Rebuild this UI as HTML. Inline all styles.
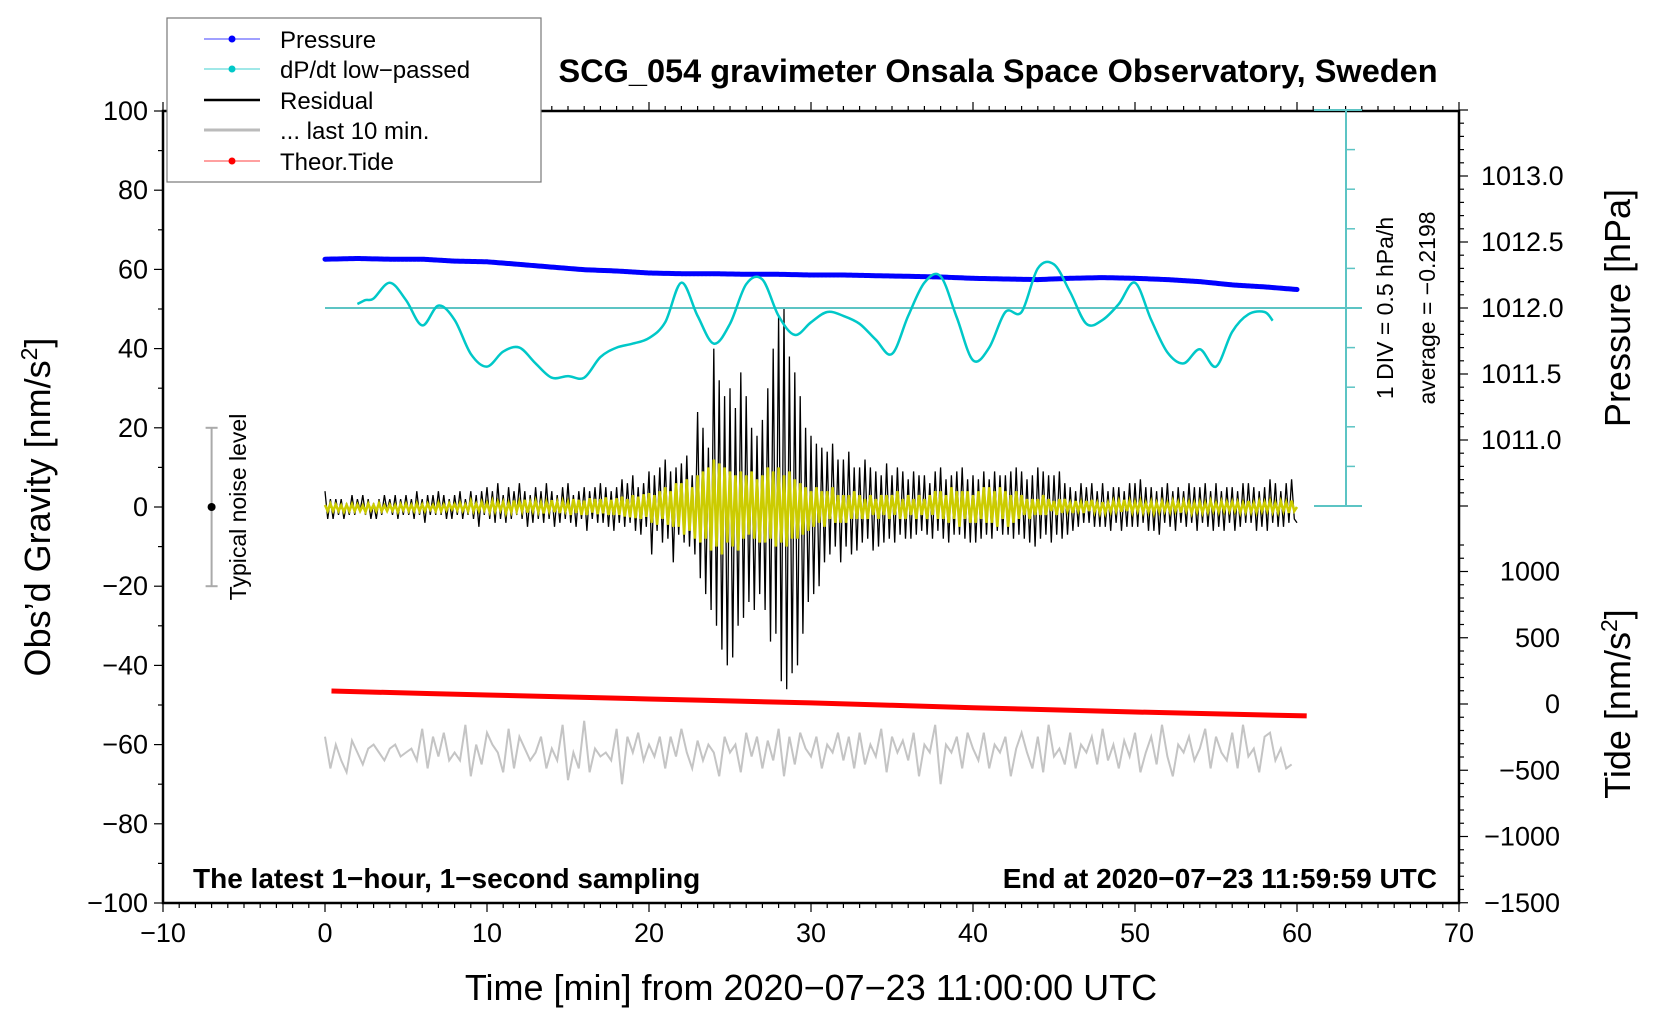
<!DOCTYPE html>
<html><head><meta charset="utf-8"><title>SCG_054 gravimeter</title>
<style>
html,body{margin:0;padding:0;background:#fff;}
svg{display:block;font-family:"Liberation Sans",Arial,sans-serif;}
</style></head>
<body>
<svg id="chart" width="1660" height="1020" viewBox="0 0 1660 1020" xmlns="http://www.w3.org/2000/svg">
<g id="axes"></g>
<g id="series"></g>
<g id="labels">
<text x="998" y="82" font-size="32.5" font-weight="bold" text-anchor="middle">SCG_054 gravimeter Onsala Space Observatory, Sweden</text>
<text x="811" y="1000" font-size="36" text-anchor="middle">Time [min] from 2020−07−23 11:00:00 UTC</text>
<text transform="translate(50,507) rotate(-90)" font-size="36" text-anchor="middle">Obs’d Gravity [nm/s<tspan font-size="23" dy="-13">2</tspan><tspan dy="13">]</tspan></text>
<text transform="translate(1630,308) rotate(-90)" font-size="36" text-anchor="middle">Pressure [hPa]</text>
<text transform="translate(1630,704) rotate(-90)" font-size="36" text-anchor="middle">Tide [nm/s<tspan font-size="23" dy="-13">2</tspan><tspan dy="13">]</tspan></text>
<text x="193" y="888" font-size="28" font-weight="bold">The latest 1−hour, 1−second sampling</text>
<text x="1437" y="888" font-size="28" font-weight="bold" text-anchor="end">End at 2020−07−23 11:59:59 UTC</text>
<text transform="translate(1393,308) rotate(-90)" font-size="23" text-anchor="middle">1 DIV = 0.5 hPa/h</text>
<text transform="translate(1435,308) rotate(-90)" font-size="23" text-anchor="middle">average = −0.2198</text>
<text transform="translate(246,507) rotate(-90)" font-size="23" text-anchor="middle">Typical noise level</text>
</g>
<g id="legend">
<rect x="167" y="18" width="374" height="164" fill="#fff" stroke="#777" stroke-width="1.2"/>
<g><line x1="204" y1="39" x2="260" y2="39" stroke="#4040ff" stroke-width="1"/><circle cx="232" cy="39" r="3.5" fill="#0000ff"/><text x="280" y="48" font-size="24">Pressure</text></g>
<g><line x1="204" y1="69" x2="260" y2="69" stroke="#40d0d0" stroke-width="1"/><circle cx="232" cy="69" r="3.5" fill="#00c8c8"/><text x="280" y="78" font-size="24">dP/dt low−passed</text></g>
<g><line x1="204" y1="100" x2="260" y2="100" stroke="#000" stroke-width="2.5"/><text x="280" y="109" font-size="24">Residual</text></g>
<g><line x1="204" y1="130" x2="260" y2="130" stroke="#bbb" stroke-width="3"/><text x="280" y="139" font-size="24">... last 10 min.</text></g>
<g><line x1="204" y1="161" x2="260" y2="161" stroke="#ff4040" stroke-width="1"/><circle cx="232" cy="161" r="3.5" fill="#ff0000"/><text x="280" y="170" font-size="24">Theor.Tide</text></g>
</g>
</svg>
<script>
// ---- data ----
const pressureTimes = [0,2,4,6,8,10,12,14,16,18,20,22,24,26,28,30,32,34,36,38,40,42,44,46,48,50,52,54,56,58,60];
const pressureHpa = [1012.37,1012.375,1012.37,1012.37,1012.355,1012.35,1012.33,1012.31,1012.29,1012.28,1012.265,1012.26,1012.26,1012.255,1012.255,1012.25,1012.25,1012.245,1012.24,1012.235,1012.225,1012.22,1012.215,1012.225,1012.23,1012.225,1012.215,1012.2,1012.175,1012.16,1012.14];
const dpdtTimes = [2,2.5,3,4,5,6,7,8,9,10,11,12,13,14,15,16,17,18,19,20,21,22,23,24,25,26,27,28,29,30,31,32,33,34,35,36,37,38,39,40,41,42,43,44,45,46,47,48,49,50,51,52,53,54,55,56,57,58,58.5];
const dpdtValues = [0.05,0.1,0.12,0.32,0.1,-0.22,0.03,-0.15,-0.58,-0.74,-0.55,-0.5,-0.7,-0.88,-0.86,-0.88,-0.62,-0.5,-0.45,-0.38,-0.18,0.32,-0.1,-0.45,-0.2,0.3,0.36,-0.1,-0.34,-0.18,-0.05,-0.1,-0.2,-0.4,-0.58,-0.1,0.32,0.4,-0.12,-0.66,-0.5,-0.05,-0.05,0.5,0.55,0.2,-0.2,-0.15,0.05,0.32,-0.15,-0.56,-0.7,-0.52,-0.74,-0.3,-0.08,-0.05,-0.16];
const tideTimes = [0.4,10,20,30,40,50,60.6];
const tideValues = [98,68,38,8,-28,-60,-90];
// residual, one value every 10 s
const residual = [4,-3,2,-3,2,-2, 2,-3,1,-2,3,-2, 2,-1,3,-2,2,-3, 1,-3,2,-2,3,-1, 2,-2,3,-3,2,-2, 3,-2,2,-3,4,-2, 2,-4,3,-2,3,-2, 4,-2,3,-3,2,-3, 3,-2,4,-3,2,-2, 4,-3,3,-5,4,-2,
5,-3,4,-4,6,-3, 3,-4,5,-3,4,-2, 6,-3,4,-5,3,-4, 5,-3,4,-4,6,-3, 4,-5,3,-4,5,-3, 6,-4,3,-5,4,-3, 5,-6,4,-3,5,-4, 6,-4,5,-5,4,-6, 5,-4,7,-5,6,-4, 8,-6,5,-7,6,-5,
9,-12,8,-6,10,-9, 12,-8,9,-14,10,-7, 11,-9,13,-10,8,-12, 24,-18,20,-22,15,-26, 40,-30,32,-36,28,-40, 30,-38,25,-30,34,-28, 28,-24,20,-26,18,-22, 22,-26,30,-34,40,-32, 48,-44,50,-46,38,-42, 34,-40,28,-32,20,-24,
18,-22,16,-20,15,-14, 14,-12,16,-10,12,-14, 12,-10,14,-12,10,-11, 10,-9,12,-8,10,-11, 9,-10,8,-9,11,-8, 8,-9,10,-7,9,-8, 7,-8,9,-7,8,-6, 8,-7,6,-8,9,-6, 10,-8,7,-9,8,-7, 9,-7,10,-8,7,-9,
8,-9,7,-8,9,-7, 7,-8,9,-6,8,-7, 8,-7,9,-8,10,-7, 9,-8,7,-9,8,-10, 10,-8,9,-7,8,-9, 8,-7,9,-8,6,-7, 5,-6,4,-5,6,-4, 5,-4,6,-5,4,-5, 6,-5,4,-6,5,-4, 5,-6,4,-5,6,-5,
6,-5,7,-4,5,-6, 5,-6,4,-7,5,-4, 6,-5,4,-6,5,-4, 4,-5,6,-4,5,-6, 5,-4,6,-5,4,-6, 6,-5,4,-6,5,-4, 5,-6,4,-5,6,-4, 6,-4,5,-6,4,-5, 5,-6,7,-4,6,-5, 4,-5,6,-4,7,-3, -4];
// filtered (yellow), one value every 10 s
const filtered = [0.5,-1,0.8,-1,0.6,-1, 0.4,-1.2,0.5,-1,0.7,-1, 0.6,-1,0.4,-1.2,0.8,-0.8, 0.5,-1,0.9,-1,0.4,-1, 0.6,-0.9,0.5,-1.2,0.7,-0.8, 0.8,-1,0.5,-1,0.9,-1, 0.6,-1,0.8,-0.7,0.5,-1, 1,-1,0.6,-0.8,0.9,-0.6, 0.7,-0.8,1,-0.9,0.6,-1, 1.5,-1,0.8,-1,1.2,-0.8,
1,-1.2,1.5,-1,1.3,-0.8, 1.2,-1.5,1,-1.2,1.6,-1, 1.4,-1,1.8,-1.4,1.2,-1, 1.5,-1.2,1.1,-1.6,1.3,-1, 1.7,-1.3,1.2,-1.5,1.4,-1, 1.2,-2,2,-1.5,1.8,-2, 1.6,-2,2.2,-1.4,2,-1.8, 2,-1.6,2.4,-2,1.8,-2, 2.2,-2,2.6,-2.4,2,-2.6, 3,-2.8,2.6,-3,3.2,-2.5,
3.5,-4,3,-4.5,4,-3, 5,-4.5,4,-5,6,-5, 6,-7,7,-6,5,-8, 8,-9,9,-8,10,-11, 12,-10,11,-12,10,-9, 9,-10,8,-11,9,-8, 8,-7,9,-8,7,-9, 8,-9,10,-8,9,-10, 10,-9,8,-10,9,-8, 7,-8,6,-7,5,-6,
4,-5,5,-4,4,-5, 4,-3,5,-4,3,-4, 3,-4,3,-3,4,-3, 3,-3,2,-3,3,-2, 2,-3,3,-2,3,-3, 3,-2,4,-3,2,-3, 3,-2,2,-3,3,-2, 2,-3,3,-2,4,-3, 4,-3,3,-4,5,-3, 4,-5,4,-3,4,-4,
3,-4,4,-3,5,-4, 5,-4,4,-5,5,-3, 4,-5,3,-4,4,-3, 3,-2,2,-3,2,-2, 2,-2,3,-2,2,-1, 1.5,-2,2,-1.5,2,-1, 1,-1.5,1.5,-1,1.2,-1.5, 1.5,-1,1.8,-1.2,1,-1.5, 1.2,-1.5,1,-1.2,1.5,-1, 1.5,-1.2,1.8,-1,1.5,-1.3,
1.2,-1,1.5,-1.3,1,-1.2, 1.3,-1.5,1,-1.2,1.4,-1, 1,-1.2,1.5,-1,1.2,-1.4, 1.4,-1,1.2,-1.5,1,-1.2, 1.2,-1.4,1,-1.2,1.5,-1, 1,-1.2,1.4,-1,1.2,-1, 1.3,-1,1.2,-1.4,1,-1.2, 1.5,-1.2,1,-1.3,1.4,-1, 1.2,-1,1.5,-1.2,1,-1.3, 1.4,-1,1.2,-1.5,1.6,-1, 0];
// last 10 min (grey), one value every 20 s
const last10 = [-58,-66,-60,-64,-67,-59,-62,-65,-61,-60,-62,-64,-61,-60,-63,-62,-61,-64,-56,-66,-58,-63,-57,-64,-62,-64,-55,-68,-60,-65,-57,-60,-62,-67,-56,-66,-58,-61,-64,-62,-58,-66,-61,-64,-55,-69,-62,-66,-54,-67,-61,-63,-62,-64,-56,-70,-58,-62,-57,-64,
-60,-63,-58,-66,-58,-63,-56,-62,-66,-59,-64,-60,-62,-68,-58,-62,-60,-67,-57,-63,-58,-66,-59,-64,-56,-68,-58,-65,-57,-61,-63,-58,-66,-60,-62,-57,-64,-58,-66,-57,-65,-60,-63,-56,-67,-58,-62,-59,-64,-57,-68,-60,-62,-55,-70,-60,-62,-58,-66,-57,
-61,-64,-57,-66,-60,-62,-58,-68,-61,-57,-62,-66,-58,-67,-55,-63,-61,-65,-57,-66,-60,-62,-58,-65,-56,-64,-60,-66,-59,-63,-57,-67,-62,-58,-65,-55,-63,-68,-60,-62,-58,-64,-61,-56,-66,-58,-62,-64,-57,-66,-55,-63,-61,-67,-58,-57,-64,-61,-66,-65];
const gravTicks = [-100,-80,-60,-40,-20,0,20,40,60,80,100];
const timeTicks = [-10,0,10,20,30,40,50,60,70];
const pressTicks = [1011.0,1011.5,1012.0,1012.5,1013.0];
const tideTicks = [-1500,-1000,-500,0,500,1000];

// ---- scales ----
const X0=163, X1=1459, Y0=111, Y1=903;
const xs = t => 325 + t*16.2;
const yg = v => 507 - v*3.96;
const yp = h => 308 - (h-1012)*132;
const yd = d => 308 - d*79.2;
const yt = v => 704 - v*0.1325;
const NS='http://www.w3.org/2000/svg';
function mk(tag, attrs, parent){const e=document.createElementNS(NS,tag);for(const k in attrs)e.setAttribute(k,attrs[k]);parent.appendChild(e);return e;}
const axes=document.getElementById('axes'), series=document.getElementById('series');

const frame=mk('rect',{x:X0,y:Y0,width:X1-X0,height:Y1-Y0,fill:'none',stroke:'#000','stroke-width':2.5},axes);



for(let t=-10;t<=70;t++){
  const major=t%10===0, x=xs(t);
  mk('line',{x1:x,y1:Y1,x2:x,y2:Y1+(major?9:5),stroke:'#000','stroke-width':1.2},axes);
  mk('line',{x1:x,y1:Y0,x2:x,y2:Y0-(major?9:5),stroke:'#000','stroke-width':1.2},axes);
}
timeTicks.forEach(t=>{
  const tx=mk('text',{x:xs(t),y:Y1+39,'font-size':27,'text-anchor':'middle'},axes);
  tx.textContent=String(t).replace('-','\u2212');
  
  
});
for(let v=-100;v<=100;v+=10){
  const major=v%20===0;
  mk('line',{x1:X0,y1:yg(v),x2:X0-(major?9:5),y2:yg(v),stroke:'#000','stroke-width':1.2},axes);
}
gravTicks.forEach(v=>{
  const tx=mk('text',{x:X0-15,y:yg(v)+9,'font-size':27,'text-anchor':'end'},axes);
  tx.textContent=String(v).replace('-','\u2212');
  
  
});
for(let i=0;i<=30;i++){
  const h=1010.5+i*0.1, y=yp(h);
  if(y<Y0-1) continue;
  const major=Math.abs((h*2)-Math.round(h*2))<1e-6;
  mk('line',{x1:X1,y1:y,x2:X1+(major?9:5),y2:y,stroke:'#000','stroke-width':1.2},axes);
}
pressTicks.forEach(h=>{
  const tx=mk('text',{x:X1+22,y:yp(h)+9,'font-size':27},axes);
  tx.textContent=h.toFixed(1);
  
  
});
for(let v=-1500;v<=1200;v+=100){
  const y=yt(v); if(y>=yp(1010.5)) {
  const major=v%500===0;
  mk('line',{x1:X1,y1:y,x2:X1+(major?9:5),y2:y,stroke:'#000','stroke-width':1.2},axes);}
}
tideTicks.forEach(v=>{
  const tx=mk('text',{x:X1+101,y:yt(v)+9,'font-size':27,'text-anchor':'end'},axes);
  tx.textContent=String(v).replace('-','\u2212');
  
  
});
const cx=1346, cc='#5cc4c4';
mk('line',{x1:cx,y1:yd(2.5),x2:cx,y2:yd(-2.5),stroke:cc,'stroke-width':2},axes);
mk('line',{x1:cx-32,y1:yd(2.5),x2:cx+16,y2:yd(2.5),stroke:cc,'stroke-width':2},axes);
mk('line',{x1:cx-32,y1:yd(-2.5),x2:cx+16,y2:yd(-2.5),stroke:cc,'stroke-width':2},axes);
for(let d=-2;d<=2;d+=0.5){ if(d!==0) mk('line',{x1:cx,y1:yd(d),x2:cx+9,y2:yd(d),stroke:cc,'stroke-width':1.5},axes); }
const zl=mk('line',{x1:xs(0),y1:yd(0),x2:cx+16,y2:yd(0),stroke:cc,'stroke-width':2},axes);



const nb=mk('g',{},series);


mk('line',{x1:xs(-7),y1:yg(20),x2:xs(-7),y2:yg(-20),stroke:'#aaa','stroke-width':2},nb);
mk('line',{x1:xs(-7)-6,y1:yg(20),x2:xs(-7)+6,y2:yg(20),stroke:'#aaa','stroke-width':2},nb);
mk('line',{x1:xs(-7)-6,y1:yg(-20),x2:xs(-7)+6,y2:yg(-20),stroke:'#aaa','stroke-width':2},nb);
mk('circle',{cx:xs(-7),cy:yg(0),r:4,fill:'#000'},nb);

function pts(ts, vs, yf){return vs.map((v,i)=>xs(ts(i)).toFixed(1)+','+yf(v).toFixed(1)).join(' ');}
function smooth(tArr,vArr,yf){
  const P=tArr.map((t,i)=>[xs(t),yf(vArr[i])]);
  let d='M'+P[0][0]+','+P[0][1];
  for(let i=0;i<P.length-1;i++){
    const p0=P[Math.max(0,i-1)],p1=P[i],p2=P[i+1],p3=P[Math.min(P.length-1,i+2)];
    d+=' C'+(p1[0]+(p2[0]-p0[0])/6).toFixed(1)+','+(p1[1]+(p2[1]-p0[1])/6).toFixed(1)+' '+(p2[0]-(p3[0]-p1[0])/6).toFixed(1)+','+(p2[1]-(p3[1]-p1[1])/6).toFixed(1)+' '+p2[0].toFixed(1)+','+p2[1].toFixed(1);
  }
  return d;
}

const gl=mk('polyline',{points:pts(i=>i/3,last10,yg),fill:'none',stroke:'#c4c4c4','stroke-width':2},series);


const tl=mk('path',{d:smooth(tideTimes,tideValues,yt),fill:'none',stroke:'#ff0000','stroke-width':5},series);


const rl=mk('polyline',{points:pts(i=>i/6,residual,yg),fill:'none',stroke:'#000','stroke-width':1.3},series);


const fl=mk('polyline',{points:pts(i=>i/6,filtered,yg),fill:'none',stroke:'#cccc00','stroke-width':2.6},series);


const pl=mk('polyline',{points:pressureHpa.map((h,i)=>xs(pressureTimes[i]).toFixed(1)+','+yp(h).toFixed(1)).join(' '),fill:'none',stroke:'#0000ff','stroke-width':5,'stroke-linejoin':'round','stroke-linecap':'round','stroke-dasharray':'3 1'},series);


const dl=mk('path',{d:smooth(dpdtTimes,dpdtValues,yd),fill:'none',stroke:'#00c8c8','stroke-width':2.5},series);


</script>
</body></html>
